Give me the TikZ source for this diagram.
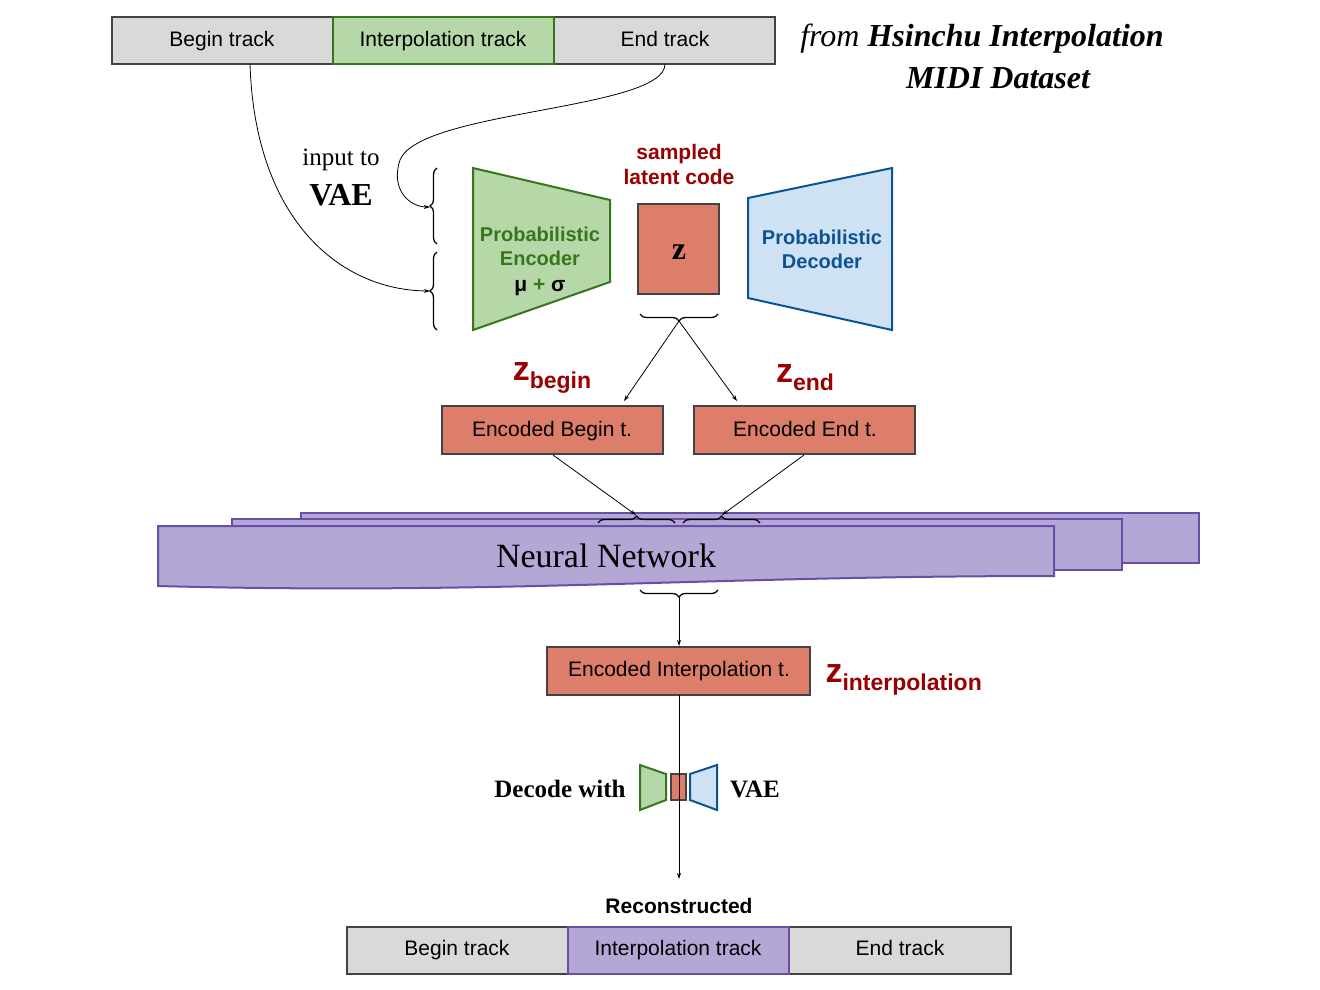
\documentclass[tikz,border=0pt]{standalone}
\usepackage{fontspec}
\setmainfont{Liberation Serif}
\setsansfont{Liberation Sans}
\usetikzlibrary{decorations.pathreplacing,arrows.meta}
\definecolor{gbox}{HTML}{D9D9D9}
\definecolor{bord}{HTML}{434343}
\definecolor{grf}{HTML}{B6D7A8}
\definecolor{grd}{HTML}{38761D}
\definecolor{redf}{HTML}{DD7E6B}
\definecolor{dred}{HTML}{990000}
\definecolor{bluf}{HTML}{CFE2F3}
\definecolor{blud}{HTML}{0B5394}
\definecolor{purf}{HTML}{B4A7D6}
\definecolor{purd}{HTML}{674EA7}
\newcommand{\fs}[1]{\fontsize{#1}{#1}\selectfont}
\begin{document}
\begin{tikzpicture}[x=1pt,y=-1pt,
 tbox/.style={draw=bord,line width=1.8pt,fill=gbox},
 txt/.style={font=\sffamily\fs{21},text height=15pt,text depth=4pt,inner sep=0pt},
 brc/.style={decorate,decoration={brace,amplitude=7pt},line width=1.3pt},
 arr/.style={-{Stealth[length=6pt,width=4pt]},line width=0.8pt},
 zl/.style={font=\sffamily\bfseries\fs{34},text=dred}]
\useasboundingbox (0,0) rectangle (1320,989);
% top tracks
\draw[tbox] (112,17) rectangle (333,64); \node[txt] (tb) at (222,41) {Begin track};
\draw[tbox] (554,17) rectangle (775,64); \node[txt] (te) at (665,41) {End track};
\draw[tbox,fill=grf,draw=grd] (333,17) rectangle (554,64); \node[txt] (ti) at (443,41) {Interpolation track};
\node[font=\fs{32}] (src1) at (982,39) {\textit{from} \textbf{\textit{Hsinchu Interpolation}}};
\node[font=\fs{32}\bfseries\itshape] (src2) at (998,78) {MIDI Dataset};
% input to VAE
\node[font=\fs{25}] (in1) at (341,160) {input to};
\node[font=\fs{32}\bfseries] (in2) at (341,195) {VAE};
\draw[brc] (437,244) -- (437,168);
\draw[brc] (437,330) -- (437,252);
\coordinate (b1) at (430,207); \coordinate (b2) at (430,291);
\draw[arr] (250,64) .. controls (255,220) and (340,290) .. (b2);
\draw[arr] (665,64) .. controls (665,110) and (420,110) .. (400,160) .. controls (390,190) and (410,207) .. (b1);
% encoder
\draw[fill=grf,draw=grd,line width=2pt] (473,168) -- (610,200) -- (610,282) -- (473,330) -- cycle;
\node[font=\sffamily\bfseries\fs{20},text=grd,align=center] (enc) at (540,246) {Probabilistic\\[4pt]Encoder};
\node[font=\sffamily\bfseries\fs{21}] (mu) at (540,287) {μ \textcolor{grd}{+} σ};
% z
\draw[fill=redf,draw=bord,line width=2pt] (638,204) rectangle (719,294);
\node[font=\bfseries\fs{32}] (z) at (679,252) {z};
\node[font=\sffamily\bfseries\fs{21},text=dred,align=center] (samp) at (679,164) {sampled\\[4pt]latent code};
% decoder
\draw[fill=bluf,draw=blud,line width=2pt] (748,198) -- (892,168) -- (892,330) -- (748,298) -- cycle;
\node[font=\sffamily\bfseries\fs{20},text=blud,align=center] (dec) at (822,249) {Probabilistic\\[4pt]Decoder};
% brace under z
\draw[brc] (718,314) -- (640,314);
\coordinate (zt) at (679,321);
\draw[arr] (zt) -- (624,401);
\draw[arr] (zt) -- (737,401);
\node[zl] (zb) at (552,378) {z\raisebox{-8pt}{\fs{23}begin}};
\node[zl] (ze) at (805,378) {z\raisebox{-8pt}{\fs{23}end}};
% encoded boxes
\draw[fill=redf,draw=bord,line width=2pt] (442,406) rectangle (663,454);
\node[txt] (eb) at (552,431) {Encoded Begin t.};
\draw[fill=redf,draw=bord,line width=2pt] (694,406) rectangle (915,454);
\node[txt] (ee) at (805,431) {Encoded End t.};
% neural network layers
\draw[fill=purf,draw=purd,line width=2pt] (301,513) rectangle (1199,563);
\draw[fill=purf,draw=purd,line width=2pt] (232,519) rectangle (1122,570);
\draw[fill=purf,draw=purd,line width=2pt] (158,526) -- (1054,526) -- (1054,576) .. controls (700,576) and (500,595) .. (158,586) -- cycle;
\node[font=\fs{34}] (nn) at (606,556) {Neural Network};
\draw[brc] (598,523) -- (675,523);
\draw[brc] (683,523) -- (760,523);
\draw[arr] (553,455) -- (636,515);
\draw[arr] (804,455) -- (722,515);
\draw[brc] (718,590) -- (640,590);
\coordinate (nt) at (679,597);
\draw[fill=redf,draw=bord,line width=2pt] (547,647) rectangle (810,695);
\node[txt] (ei) at (679,671) {Encoded Interpolation t.};
\draw[arr] (nt) -- (679,646);
\node[zl,anchor=west] (zi) at (822,680) {z\raisebox{-8pt}{\fs{23}interpolation}};
% mini vae
\draw[fill=grf,draw=grd,line width=2pt] (640,765) -- (666,774) -- (666,800) -- (640,810) -- cycle;
\draw[fill=redf,draw=bord,line width=2pt] (671,774) rectangle (686,800);
\draw[fill=bluf,draw=blud,line width=2pt] (690,774) -- (717,765) -- (717,810) -- (690,800) -- cycle;
\draw[arr] (679,695) -- (679,879);
\node[font=\fs{25}\bfseries] (dw) at (560,789) {Decode with};
\node[font=\fs{25}\bfseries] (vae) at (755,789) {VAE};
% reconstructed
\node[font=\sffamily\bfseries\fs{21}] (rec) at (679,906) {Reconstructed};
\draw[tbox] (347,927) rectangle (568,974); \node[txt] (rb) at (457,950) {Begin track};
\draw[tbox] (789,927) rectangle (1011,974); \node[txt] (re) at (900,950) {End track};
\draw[tbox,fill=purf,draw=purd] (568,927) rectangle (789,974); \node[txt] (ri) at (678,950) {Interpolation track};
\end{tikzpicture}
\end{document}
